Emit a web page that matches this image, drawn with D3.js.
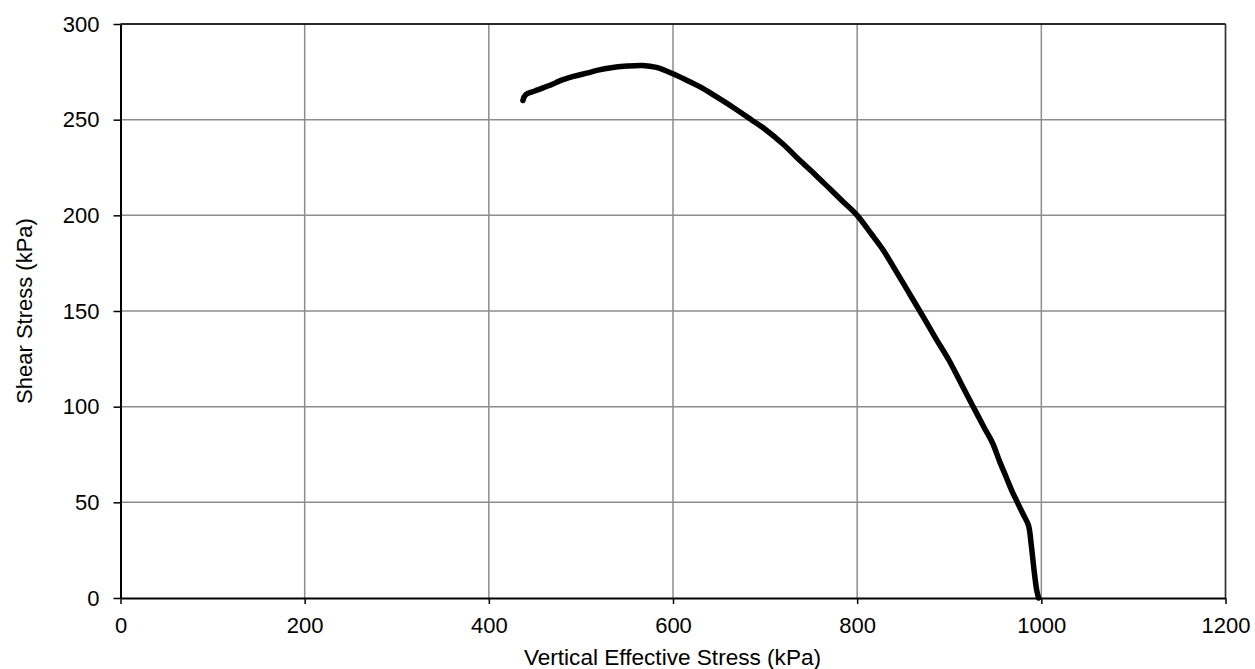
<!DOCTYPE html>
<html><head><meta charset="utf-8">
<script src="https://cdnjs.cloudflare.com/ajax/libs/d3/7.8.5/d3.min.js"></script>
<style>body{margin:0;background:#fff}svg{display:block}</style>
</head><body><svg id="c" width="1255" height="669"></svg>
<script>
const xTicks = [0, 200, 400, 600, 800, 1000, 1200];
const yTicks = [0, 50, 100, 150, 200, 250, 300];
const stressX = [437, 440, 450, 469, 477, 492, 506, 520, 531, 550, 567, 582, 600, 611, 630, 647, 665, 685, 700, 720, 737, 755, 770, 785, 800, 815, 828, 842, 855, 868, 885, 900, 913, 926, 938, 947, 955, 962, 968, 974, 980, 986, 989, 992, 995, 997];
const shearY = [260, 263, 265, 268.5, 270.3, 272.6, 274.3, 276, 277, 278, 278.3, 277.3, 274, 271.5, 267, 262, 256.5, 250, 245, 237, 229, 221, 214, 207, 200, 190.5, 182, 171, 160.5, 150, 136, 124, 112, 100, 89, 81, 71, 63, 56, 50, 44, 38, 28, 15, 4, 0];
const xLabel = "Vertical Effective Stress (kPa)";
const yLabel = "Shear Stress (kPa)";

const svg = d3.select("#c");
const x = d3.scaleLinear().domain([0, 1200]).range([120.5, 1225.5]);
const y = d3.scaleLinear().domain([0, 300]).range([598, 24]);
const font = "'Liberation Sans', Arial, sans-serif";

// grid
svg.append("g").selectAll("line").data(xTicks.slice(1)).join("line")
  .attr("x1", d => x(d)).attr("x2", d => x(d)).attr("y1", y(0)).attr("y2", y(300))
  .attr("stroke", "#8c8c8c").attr("stroke-width", 1.5);
svg.append("g").selectAll("line").data(yTicks.slice(1)).join("line")
  .attr("x1", x(0)).attr("x2", x(1200)).attr("y1", d => y(d)).attr("y2", d => y(d))
  .attr("stroke", "#8c8c8c").attr("stroke-width", 1.5);
// top and right border
svg.append("line").attr("x1", x(0)).attr("x2", x(1200)).attr("y1", y(300)).attr("y2", y(300)).attr("stroke", "#000").attr("stroke-width", 1.5);
svg.append("line").attr("x1", x(1200)).attr("x2", x(1200)).attr("y1", y(0)).attr("y2", y(300)).attr("stroke", "#333").attr("stroke-width", 1.5);

// axes
const xa = svg.append("g").attr("transform", `translate(0,${y(0)})`)
  .call(d3.axisBottom(x).tickValues(xTicks).tickFormat(d3.format("d")).tickSize(6).tickPadding(13).tickSizeOuter(0));
const ya = svg.append("g").attr("transform", `translate(${x(0)},0)`)
  .call(d3.axisLeft(y).tickValues(yTicks).tickFormat(d3.format("d")).tickSize(7).tickPadding(14).tickSizeOuter(0));
[xa, ya].forEach(g => {
  g.attr("font-family", null).attr("font-size", null);
  g.select(".domain").attr("stroke", "#000").attr("stroke-width", 2);
  g.selectAll(".tick line").attr("stroke", "#000").attr("stroke-width", 1.5);
  g.selectAll(".tick text").style("font-family", font).style("font-size", "22px").attr("fill", "#000");
});

// curve
const pts = stressX.map((v, i) => [v, shearY[i]]);
svg.append("path").datum(pts)
  .attr("d", d3.line().x(d => x(d[0])).y(d => y(d[1])).curve(d3.curveCatmullRom))
  .attr("fill", "none").attr("stroke", "#000").attr("stroke-width", 5.5)
  .attr("stroke-linejoin", "round").attr("stroke-linecap", "round");

// labels
svg.append("text").attr("x", 672.5).attr("y", 665).attr("text-anchor", "middle")
  .style("font-family", font).style("font-size", "22.6px").text(xLabel);
svg.append("text").attr("transform", `translate(32,${(y(0) + y(300)) / 2}) rotate(-90)`)
  .attr("text-anchor", "middle").style("font-family", font).style("font-size", "22px").text(yLabel);
</script></body></html>
